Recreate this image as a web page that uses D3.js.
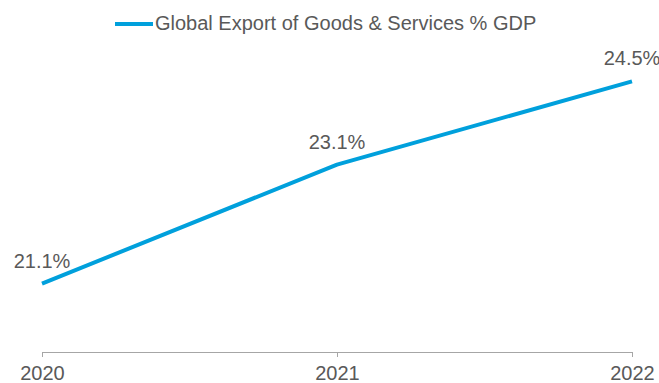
<!DOCTYPE html>
<html>
<head>
<meta charset="utf-8">
<script src="https://cdn.jsdelivr.net/npm/d3@7"></script>
<style>
  html, body { margin: 0; padding: 0; background: #fff; }
  svg { display: block; }
  text { font-family: "Liberation Sans", Arial, sans-serif; fill: #595959; }
</style>
</head>
<body>
<svg id="chart" width="659" height="383"></svg>
<script>
// Global exports of goods & services as a share of GDP
const years = ["2020", "2021", "2022"];
const exportShare = [21.1, 23.1, 24.5];
const seriesName = "Global Export of Goods & Services % GDP";

const lineColor = "#00A0DC";
const svg = d3.select("#chart");

const x = d3.scalePoint().domain(years).range([42, 632]);
const y = d3.scaleLinear().domain([19.95, 25.85]).range([352, 1]);

// Category axis along the bottom
const axis = d3.axisBottom(x).tickSize(5).tickPadding(9).tickSizeOuter(0);
const gx = svg.append("g").attr("transform", "translate(0,352)").call(axis);
gx.select(".domain").attr("stroke", "#A6A6A6").attr("stroke-width", 1);
gx.selectAll(".tick line").attr("stroke", "#A6A6A6");
gx.selectAll(".tick text")
  .attr("font-size", 20)
  .attr("font-family", "Liberation Sans, Arial, sans-serif")
  .attr("fill", "#595959");

// Series line
const data = years.map((yr, i) => ({ yr, v: exportShare[i] }));
const line = d3.line().x(d => x(d.yr)).y(d => y(d.v));
svg.append("path")
  .datum(data)
  .attr("fill", "none")
  .attr("stroke", lineColor)
  .attr("stroke-width", 4)
  .attr("stroke-linejoin", "round")
  .attr("d", line);

// Value labels above each point
svg.selectAll(".val")
  .data(data)
  .join("text")
  .attr("class", "val")
  .attr("x", d => x(d.yr))
  .attr("y", d => y(d.v) - 16)
  .attr("text-anchor", "middle")
  .attr("font-size", 20)
  .text(d => d.v.toFixed(1) + "%");

// Legend
const lg = svg.append("g");
lg.append("line")
  .attr("x1", 115).attr("x2", 153)
  .attr("y1", 24).attr("y2", 24)
  .attr("stroke", lineColor).attr("stroke-width", 4);
lg.append("text")
  .attr("x", 155).attr("y", 30)
  .attr("font-size", 20)
  .text(seriesName);
</script>
</body>
</html>
